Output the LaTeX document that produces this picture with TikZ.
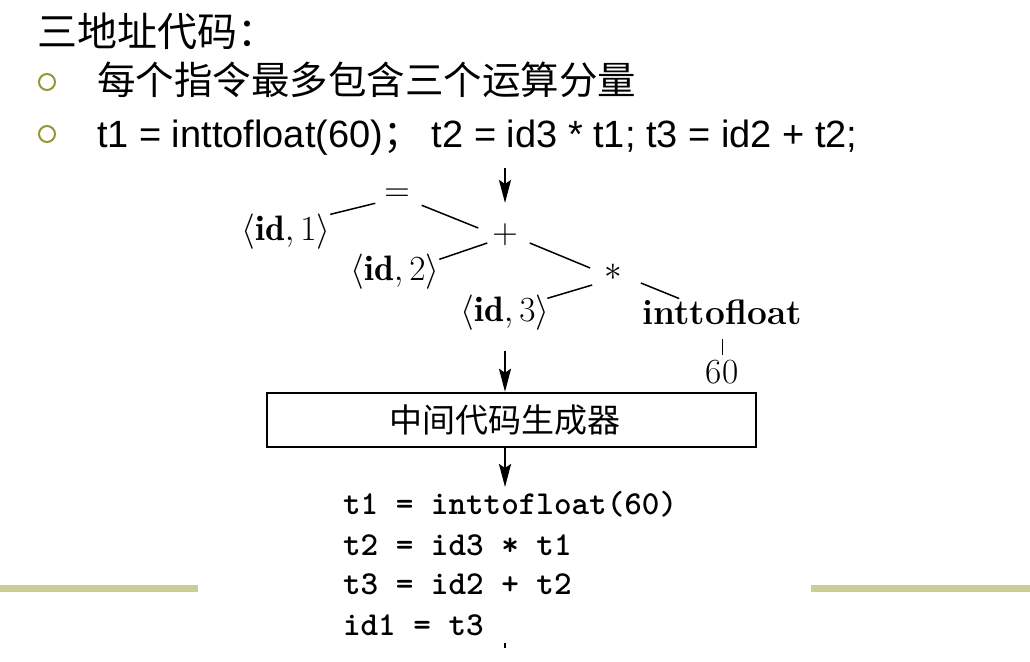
\documentclass[tikz,border=0pt]{standalone}
\usepackage{fontspec}
\usepackage{amsmath}
\newfontfamily\cjk{Noto Sans CJK SC}
\newfontfamily\arialf{Liberation Sans}
\usetikzlibrary{arrows.meta}
\definecolor{olive1}{RGB}{150,150,55}
\definecolor{olive2}{RGB}{204,204,153}
\begin{document}
\begin{tikzpicture}[x=1pt,y=-1pt,
  txt/.style={inner sep=0pt,outer sep=0pt},
  treetxt/.style={txt,font=\Huge,scale=1.42,transform shape},
  codetxt/.style={txt,anchor=base west,font=\fontsize{33.5}{38}\selectfont\ttfamily\bfseries},
  edge/.style={line width=1.5pt},
  arr/.style={line width=2pt,-{Stealth[length=23pt,width=12pt,inset=4pt]}},
  bullet/.style={draw=olive1,line width=2pt,circle,minimum size=16pt,inner sep=0pt},
  box/.style={draw,line width=2.5pt,minimum width=489pt,minimum height=54pt,inner sep=0pt}]
\useasboundingbox (0,0) rectangle (1030,661);
% header text
\node[txt,anchor=west,font=\cjk\fontsize{40}{46}\selectfont] (title) at (37,31) {三地址代码：};
\node[bullet] (b1) at (47,82) {};
\node[bullet] (b2) at (47,134) {};
\node[txt,anchor=west,font=\cjk\fontsize{38.5}{46}\selectfont] (l1) at (97,80) {每个指令最多包含三个运算分量};
\node[txt,anchor=base west,font=\arialf\fontsize{38}{44}\selectfont] (l2) at (97,147) {t1 = inttofloat(60){\cjk ；} t2 = id3 * t1; t3 = id2 + t2;};
% tree
\node[treetxt] (eq) at (397,195) {$=$};
\node[treetxt] (plus) at (505,235) {$+$};
\node[treetxt] (mul) at (613,272) {$*$};
\node[treetxt] (id1) at (286,232) {$\langle \mathbf{id}, 1\rangle$};
\node[treetxt] (id2) at (395,272) {$\langle \mathbf{id}, 2\rangle$};
\node[treetxt] (id3) at (505,313) {$\langle \mathbf{id}, 3\rangle$};
\node[treetxt] (itf) at (722,312) {\textbf{inttofloat}};
\node[treetxt] (sixty) at (722,372) {60};
\coordinate (top) at (505,168);
\draw[arr] (top) -- ([shift={(0,-21)}]plus.north);
\draw[edge] (id1.north east) -- ([shift={(-9,2)}]eq.south west);
\draw[edge] ([shift={(12,4)}]eq.south east) -- ([shift={(-14,-7)}]plus.west);
\draw[edge] ([shift={(-5,8)}]plus.west) -- ([shift={(0,5)}]id2.north east);
\draw[edge] ([shift={(12,8)}]plus.east) -- ([shift={(-14,-4)}]mul.west);
\draw[edge] ([shift={(-12,13)}]mul.west) -- ([shift={(-2,3)}]id3.north east);
\draw[edge] ([shift={(19,11)}]mul.east) -- ([shift={(37,-1)}]itf.north west);
\draw[line width=0.9pt] ([shift={(0,15)}]itf.south) -- ([shift={(0,-5)}]sixty.north);
% generator box
\node[box] (gen) at (511.5,420) {};
\node[txt,font=\cjk\fontsize{33}{38}\selectfont] (genlbl) at (505,420) {中间代码生成器};
\draw[arr] ([shift={(0,20)}]id3.south) -- (gen.north -| id3.south);
\coordinate (codetop) at (505,487);
\draw[arr] (gen.south -| id3.south) -- (codetop);
% code
\node[codetxt] (c1) at (343,514) {t1 = inttofloat(60)};
\node[codetxt] (c2) at (343,555) {t2 = id3 * t1};
\node[codetxt] (c3) at (343,594) {t3 = id2 + t2};
\node[codetxt] (c4) at (343,635) {id1 = t3};
\coordinate (tick) at (505,648);
\draw[line width=1.5pt] (505,643) -- (tick);
% footer lines
\fill[olive2] (0,585) rectangle (198,592);
\fill[olive2] (811,585) rectangle (1030,592);
\end{tikzpicture}
\end{document}
